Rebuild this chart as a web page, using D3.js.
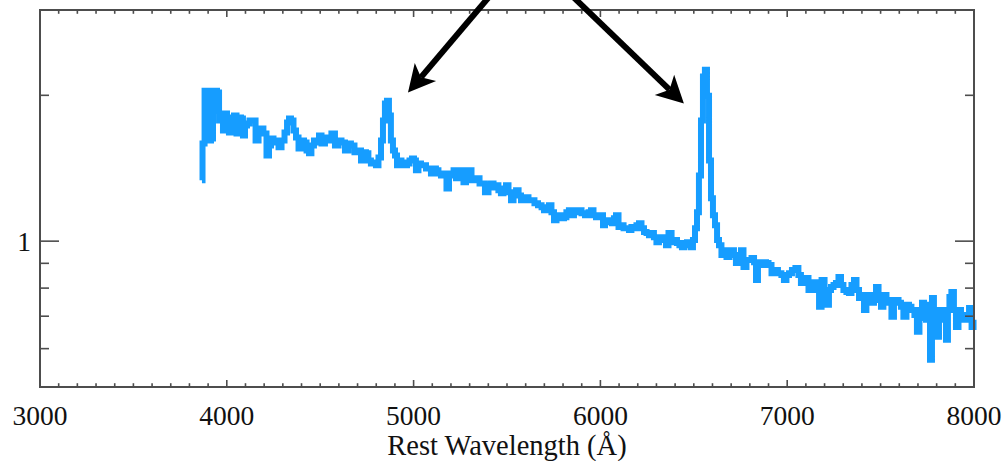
<!DOCTYPE html>
<html>
<head>
<meta charset="utf-8">
<script src="https://cdn.jsdelivr.net/npm/d3@7/dist/d3.min.js"></script>
<style>
  html, body { margin: 0; padding: 0; background: #fff; }
  svg { display: block; }
  text { font-family: "Liberation Serif", "Times New Roman", serif; fill: #111; }
</style>
</head>
<body>
<svg id="chart" width="1005" height="461"></svg>
<script>
// Rest-frame optical spectrum (wavelength in Angstrom, relative flux)
const wavelength = [
  3867, 3873, 3889, 3899, 3910, 3921, 3931, 3942, 3953, 3964, 3974, 3985, 3996, 4006, 4017, 4033,
  4044, 4060, 4071, 4081, 4092, 4103, 4113, 4130, 4146, 4162, 4178, 4188, 4204, 4221, 4231, 4242,
  4258, 4269, 4285, 4301, 4317, 4328, 4338, 4349, 4365, 4376, 4392, 4408, 4419, 4435, 4445, 4461,
  4472, 4488, 4499, 4515, 4536, 4552, 4568, 4590, 4606, 4622, 4643, 4659, 4670, 4697, 4713, 4724,
  4740, 4750, 4766, 4777, 4793, 4804, 4820, 4831, 4841, 4852, 4863, 4873, 4884, 4895, 4906, 4916,
  4927, 4943, 4959, 4970, 4986, 4997, 5007, 5018, 5034, 5045, 5061, 5072, 5088, 5098, 5114, 5125,
  5141, 5152, 5168, 5184, 5195, 5206, 5222, 5232, 5248, 5259, 5275, 5286, 5302, 5318, 5334, 5345,
  5361, 5371, 5393, 5409, 5420, 5436, 5446, 5462, 5473, 5489, 5500, 5516, 5527, 5543, 5554, 5570,
  5580, 5596, 5607, 5623, 5639, 5655, 5677, 5693, 5703, 5719, 5730, 5746, 5757, 5773, 5784, 5800,
  5810, 5826, 5837, 5853, 5864, 5880, 5891, 5907, 5928, 5944, 5955, 5971, 5982, 5998, 6009, 6019,
  6030, 6041, 6057, 6067, 6078, 6089, 6105, 6116, 6132, 6148, 6158, 6174, 6185, 6201, 6212, 6228,
  6239, 6255, 6265, 6281, 6292, 6308, 6319, 6335, 6346, 6356, 6373, 6389, 6405, 6415, 6431, 6442,
  6458, 6469, 6480, 6490, 6501, 6512, 6522, 6533, 6544, 6554, 6565, 6576, 6587, 6597, 6608, 6619,
  6630, 6640, 6656, 6667, 6683, 6699, 6710, 6720, 6731, 6747, 6758, 6774, 6790, 6801, 6817, 6828,
  6838, 6849, 6865, 6881, 6892, 6908, 6924, 6940, 6961, 6977, 6988, 7004, 7015, 7036, 7052, 7068,
  7079, 7095, 7106, 7122, 7138, 7149, 7165, 7176, 7192, 7208, 7218, 7229, 7240, 7256, 7266, 7283,
  7293, 7309, 7325, 7336, 7352, 7363, 7379, 7390, 7406, 7416, 7432, 7443, 7459, 7470, 7481, 7497,
  7507, 7523, 7540, 7550, 7566, 7577, 7588, 7604, 7614, 7630, 7647, 7657, 7673, 7689, 7700, 7716,
  7727, 7738, 7748, 7759, 7770, 7780, 7791, 7807, 7818, 7829, 7845, 7855, 7866, 7871, 7887, 7898,
  7909, 7925, 7936, 7952, 7968, 7979, 7995, 8000
];
const flux = [
  1.335, 1.591, 2.045, 2.045, 1.614, 1.629, 1.860, 2.045, 2.026, 1.774, 1.816, 1.692, 1.834, 1.799, 1.676, 1.799,
  1.816, 1.668, 1.799, 1.791, 1.653, 1.733, 1.749, 1.774, 1.774, 1.614, 1.692, 1.708, 1.668, 1.503, 1.576, 1.629,
  1.614, 1.599, 1.562, 1.614, 1.676, 1.757, 1.791, 1.774, 1.692, 1.637, 1.554, 1.614, 1.599, 1.539, 1.518, 1.576,
  1.614, 1.599, 1.653, 1.591, 1.637, 1.614, 1.668, 1.576, 1.614, 1.599, 1.539, 1.591, 1.576, 1.525, 1.539, 1.468,
  1.525, 1.518, 1.468, 1.447, 1.454, 1.434, 1.489, 1.614, 1.774, 1.923, 1.950, 1.816, 1.614, 1.539, 1.503, 1.434,
  1.468, 1.454, 1.434, 1.447, 1.468, 1.482, 1.468, 1.400, 1.447, 1.434, 1.434, 1.413, 1.413, 1.380, 1.413, 1.400,
  1.380, 1.367, 1.380, 1.285, 1.367, 1.380, 1.400, 1.348, 1.367, 1.400, 1.323, 1.387, 1.400, 1.335, 1.348, 1.348,
  1.316, 1.316, 1.261, 1.304, 1.316, 1.291, 1.304, 1.273, 1.255, 1.285, 1.304, 1.261, 1.214, 1.243, 1.273, 1.243,
  1.214, 1.232, 1.232, 1.214, 1.214, 1.197, 1.186, 1.175, 1.158, 1.175, 1.186, 1.147, 1.105, 1.131, 1.131, 1.115,
  1.120, 1.147, 1.158, 1.131, 1.147, 1.158, 1.158, 1.142, 1.131, 1.147, 1.158, 1.131, 1.120, 1.131, 1.131, 1.079,
  1.105, 1.105, 1.094, 1.089, 1.115, 1.131, 1.069, 1.079, 1.063, 1.063, 1.054, 1.069, 1.063, 1.079, 1.089, 1.063,
  1.044, 1.039, 1.029, 1.039, 1.019, 0.995, 1.014, 1.019, 1.005, 0.981, 1.039, 0.995, 1.005, 0.991, 0.981, 0.972,
  0.991, 0.995, 0.981, 0.972, 1.005, 1.063, 1.147, 1.367, 1.774, 2.186, 2.259, 1.997, 1.468, 1.226, 1.131, 1.079,
  1.005, 0.981, 0.936, 0.958, 0.927, 0.936, 0.958, 0.936, 0.901, 0.936, 0.958, 0.884, 0.914, 0.914, 0.923, 0.905,
  0.831, 0.905, 0.893, 0.905, 0.901, 0.893, 0.859, 0.872, 0.859, 0.851, 0.831, 0.851, 0.859, 0.872, 0.880, 0.851,
  0.820, 0.839, 0.839, 0.793, 0.823, 0.823, 0.793, 0.732, 0.831, 0.793, 0.739, 0.793, 0.804, 0.812, 0.820, 0.843,
  0.812, 0.793, 0.785, 0.782, 0.812, 0.831, 0.793, 0.763, 0.774, 0.721, 0.774, 0.763, 0.746, 0.774, 0.804, 0.756,
  0.732, 0.774, 0.756, 0.746, 0.698, 0.756, 0.756, 0.746, 0.732, 0.698, 0.739, 0.732, 0.721, 0.704, 0.650, 0.721,
  0.746, 0.694, 0.688, 0.739, 0.569, 0.763, 0.721, 0.635, 0.688, 0.721, 0.688, 0.626, 0.721, 0.767, 0.785, 0.721,
  0.665, 0.721, 0.704, 0.688, 0.704, 0.728, 0.665, 0.688
];

// Axis ticks
const xMajorTicks = [3000, 4000, 5000, 6000, 7000, 8000];
const yLabelledTicks = [1];
const yMinorTicks = [0.6, 0.7, 0.8, 0.9, 2, 3];

// Annotation arrows pointing at H-beta and H-alpha (tail -> tip, data units)
const arrowTails = [[5409, 3.21], [5848, 3.21]];
const arrowTips = [[4970, 2.026], [6447, 1.923]];

(function draw() {
  const plotL = 40, plotR = 974, plotT = 10, plotB = 387;
  const x = d3.scaleLinear().domain([3000, 8000]).range([plotL, plotR]);
  const y = d3.scaleLog().domain([0.5, 3]).range([plotB, plotT]);

  const svg = d3.select("#chart");
  const axisColor = "#4d4d4d";

  // Spectrum, drawn as a histogram-style step line
  const n = Math.min(wavelength.length, flux.length);
  const pts = d3.range(n).map(i => [wavelength[i], flux[i]]);
  const line = d3.line().curve(d3.curveStep).x(d => x(d[0])).y(d => y(d[1]));
  svg.append("path")
    .datum(pts)
    .attr("d", line)
    .attr("fill", "none")
    .attr("stroke", "#169dff")
    .attr("stroke-width", 6)
    .attr("stroke-linejoin", "miter")
    .attr("stroke-linecap", "butt");

  // Frame
  svg.append("rect")
    .attr("x", plotL).attr("y", plotT)
    .attr("width", plotR - plotL).attr("height", plotB - plotT)
    .attr("fill", "none").attr("stroke", axisColor).attr("stroke-width", 2);

  const ticks = svg.append("g").attr("stroke", axisColor).attr("stroke-width", 1.6);

  // X ticks on bottom and top edges
  const xMinorTicks = d3.range(3100, 8000, 100).filter(v => v % 1000 !== 0);
  [[xMajorTicks, 7], [xMinorTicks, 3.8]].forEach(([vals, len]) => {
    vals.forEach(v => {
      ticks.append("line").attr("x1", x(v)).attr("x2", x(v)).attr("y1", plotB).attr("y2", plotB - len);
      ticks.append("line").attr("x1", x(v)).attr("x2", x(v)).attr("y1", plotT).attr("y2", plotT + len);
    });
  });

  // Y ticks on left and right edges
  [[yLabelledTicks, 19], [yMinorTicks, 9]].forEach(([vals, len]) => {
    vals.forEach(v => {
      ticks.append("line").attr("x1", plotL).attr("x2", plotL + len).attr("y1", y(v)).attr("y2", y(v));
      ticks.append("line").attr("x1", plotR).attr("x2", plotR - len).attr("y1", y(v)).attr("y2", y(v));
    });
  });

  // Tick labels
  svg.append("g").selectAll("text").data(xMajorTicks).join("text")
    .attr("x", d => x(d)).attr("y", 425)
    .attr("text-anchor", "middle")
    .attr("font-size", 27.5)
    .text(d => d);

  svg.append("g").selectAll("text").data(yLabelledTicks).join("text")
    .attr("x", 31).attr("y", d => y(d)).attr("dy", "0.36em")
    .attr("text-anchor", "end")
    .attr("font-size", 27.5)
    .text(d => d);

  // Axis title
  svg.append("text")
    .attr("x", (plotL + plotR) / 2).attr("y", 455)
    .attr("text-anchor", "middle")
    .attr("font-size", 28.5)
    .text("Rest Wavelength (Å)");

  // Arrows
  const headLen = 27, headHalf = 14, notch = 20;
  arrowTails.forEach((t, i) => {
    const tip = arrowTips[i];
    const x0 = x(t[0]), y0 = y(t[1]), x1 = x(tip[0]), y1 = y(tip[1]);
    const dx = x1 - x0, dy = y1 - y0, L = Math.hypot(dx, dy);
    const ux = dx / L, uy = dy / L, px = -uy, py = ux;
    svg.append("line")
      .attr("x1", x0).attr("y1", y0)
      .attr("x2", x1 - ux * notch).attr("y2", y1 - uy * notch)
      .attr("stroke", "#000").attr("stroke-width", 6);
    const head = [
      [x1, y1],
      [x1 - ux * headLen + px * headHalf, y1 - uy * headLen + py * headHalf],
      [x1 - ux * notch, y1 - uy * notch],
      [x1 - ux * headLen - px * headHalf, y1 - uy * headLen - py * headHalf]
    ];
    svg.append("path")
      .attr("d", "M" + head.map(p => p.join(",")).join("L") + "Z")
      .attr("fill", "#000");
  });
})();
</script>
</body>
</html>
